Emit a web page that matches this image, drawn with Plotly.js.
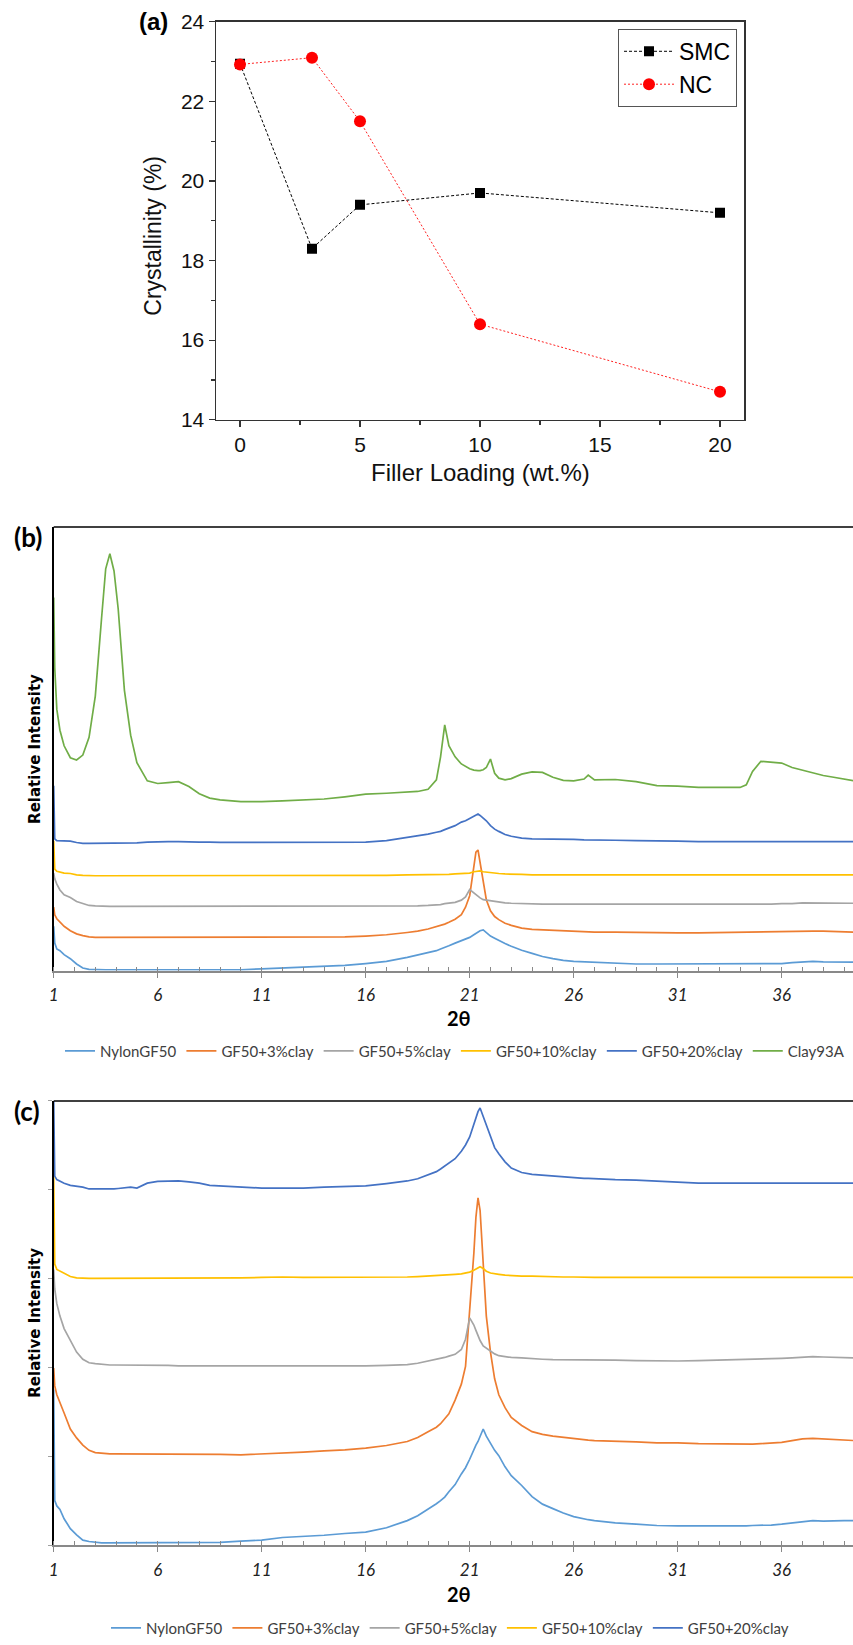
<!DOCTYPE html>
<html><head><meta charset="utf-8">
<script src="https://cdn.plot.ly/plotly-3.0.1.min.js"></script>
<style>html,body{margin:0;padding:0;background:#fff}</style>
</head><body><div id="chart" style="width:853px;height:1645px"></div>
<script>
// ---------- Panel (a) data ----------
const fillerLoading = [0, 3, 5, 10, 20];
const crystSMC = [22.95, 18.3, 19.4, 19.7, 19.2];
const crystNC  = [22.93, 23.1, 21.5, 16.4, 14.7];

// ---------- Panels (b),(c) shared 2-theta grid ----------
const twoTheta = [1.0,1.05,1.15,1.3,1.5,1.8,2.1,2.4,2.7,3.0,
  3.3,3.5,3.7,3.9,4.1,4.4,4.7,5.0,5.5,6.0,
  6.5,7.0,7.5,8.0,8.5,9.0,10,11,12,13,
  14,15,16,17,18,18.5,19,19.4,19.6,19.8,
  20.0,20.3,20.6,20.8,21.0,21.2,21.3,21.4,21.5,21.65,
  21.8,22.0,22.2,22.4,22.7,23.0,23.5,24,24.5,25,
  25.5,26,26.5,26.7,27,28,29,30,31,32,
  33,34,34.3,34.6,35,35.5,36,36.5,37,37.5,
  38,38.5,39,39.5];

// Panel (b) relative intensities
const bNylonGF50 = [10.0,6.2,4.9,4.5,3.6,2.7,1.5,0.6,0.3,0.2,
  0.2,0.2,0.2,0.2,0.2,0.2,0.2,0.2,0.2,0.2,
  0.2,0.2,0.2,0.2,0.2,0.2,0.2,0.4,0.6,0.8,
  0.9,1.2,1.6,2.1,3.0,3.5,4.0,4.5,4.9,5.2,
  5.6,6.2,6.8,7.1,7.5,8.1,8.4,8.7,9.0,9.2,
  8.5,7.8,7.3,6.8,6.1,5.5,4.6,3.9,3.2,2.7,
  2.3,2.1,2.0,1.9,1.8,1.6,1.5,1.5,1.5,1.5,
  1.5,1.5,1.5,1.5,1.5,1.6,1.6,1.8,2.0,2.1,
  2.0,2.0,1.9,1.9];
const bClay3 = [14.3,12.6,11.7,10.9,10.0,9.0,8.3,7.9,7.6,7.5,
  7.5,7.5,7.5,7.5,7.5,7.5,7.5,7.5,7.5,7.5,
  7.5,7.5,7.5,7.5,7.5,7.5,7.5,7.5,7.5,7.5,
  7.5,7.6,7.8,8.1,8.6,8.9,9.4,9.9,10.2,10.5,
  10.9,11.6,12.6,14.3,16.9,23.7,26.7,27.2,24.6,19.9,
  16.0,13.5,12.2,11.5,10.7,10.2,9.6,9.3,9.2,9.1,
  9.0,8.9,8.8,8.8,8.7,8.7,8.6,8.5,8.5,8.5,
  8.6,8.7,8.7,8.7,8.8,8.8,8.8,8.9,8.9,8.9,
  8.9,8.8,8.7,8.7];
const bClay5 = [22.0,20.7,19.5,18.2,17.1,16.5,15.6,15.1,14.7,14.6,
  14.5,14.5,14.5,14.5,14.5,14.5,14.5,14.5,14.5,14.5,
  14.5,14.5,14.5,14.5,14.5,14.5,14.5,14.5,14.5,14.5,
  14.5,14.5,14.5,14.5,14.6,14.6,14.7,14.8,14.9,15.1,
  15.2,15.4,15.9,16.6,18.3,17.5,17.1,16.8,16.4,16.0,
  15.9,15.6,15.5,15.4,15.3,15.2,15.1,15.0,15.0,15.0,
  15.0,15.0,15.0,15.0,15.0,15.0,14.9,14.9,14.9,14.9,
  15.0,15.0,15.0,15.0,15.0,15.0,15.1,15.1,15.3,15.3,
  15.3,15.3,15.2,15.2];
const bClay10 = [29.3,22.9,22.4,22.2,22.0,21.9,21.6,21.5,21.4,21.4,
  21.4,21.4,21.4,21.4,21.4,21.4,21.4,21.4,21.4,21.4,
  21.4,21.4,21.4,21.4,21.4,21.4,21.4,21.4,21.4,21.4,
  21.4,21.4,21.4,21.5,21.6,21.6,21.6,21.6,21.6,21.7,
  21.7,21.8,21.9,21.9,22.0,22.3,22.4,22.5,22.5,22.3,
  22.2,22.0,21.9,21.9,21.8,21.7,21.7,21.6,21.6,21.6,
  21.6,21.6,21.6,21.6,21.6,21.6,21.6,21.6,21.6,21.6,
  21.6,21.6,21.6,21.6,21.6,21.6,21.6,21.6,21.6,21.6,
  21.6,21.6,21.6,21.6];
const bClay20 = [41.7,29.7,29.3,29.3,29.3,29.2,28.9,28.7,28.7,28.7,
  28.7,28.7,28.7,28.7,28.7,28.7,28.7,28.8,29.0,29.1,
  29.1,29.1,29.0,29.0,29.0,28.9,28.9,28.9,28.9,28.9,
  28.9,29.0,29.0,29.3,30.0,30.3,30.8,31.2,31.4,31.8,
  32.1,32.7,33.5,33.8,34.3,34.9,35.1,35.3,35.0,34.4,
  33.8,32.7,31.9,31.4,30.7,30.3,29.9,29.7,29.7,29.6,
  29.6,29.6,29.5,29.5,29.5,29.4,29.3,29.3,29.2,29.1,
  29.1,29.0,29.0,29.0,29.0,29.0,29.0,29.0,29.0,29.1,
  29.1,29.1,29.1,29.1];
const bClay93A = [84.1,68.3,58.9,54.2,50.7,48.0,47.5,48.6,52.6,61.9,
  79.4,90.6,94.0,90.1,81.6,63.2,53.1,46.9,42.8,42.2,
  42.4,42.6,41.5,39.9,38.9,38.5,38.1,38.1,38.3,38.5,
  38.7,39.2,39.8,40.0,40.3,40.4,40.9,43.0,48.2,55.4,
  50.7,48.2,46.6,46.0,45.5,45.2,45.1,45.1,45.1,45.3,
  45.8,47.7,44.5,43.4,43.0,43.3,44.3,44.8,44.7,43.6,
  42.9,42.8,43.2,44.1,43.0,43.1,42.6,41.7,41.6,41.3,
  41.3,41.3,41.9,44.9,47.2,47.0,46.8,45.8,45.2,44.6,
  44.0,43.6,43.2,42.8];

// Panel (c) relative intensities
const cNylonGF50 = [35.1,10.1,8.9,8.1,6.0,3.8,2.4,1.2,0.9,0.7,
  0.6,0.6,0.6,0.6,0.6,0.6,0.6,0.6,0.6,0.6,
  0.6,0.6,0.6,0.6,0.7,0.7,1.0,1.2,1.8,2.0,
  2.3,2.7,3.0,4.0,5.6,6.7,8.1,9.4,10.1,10.9,
  12.1,13.7,16.1,17.5,19.4,21.8,22.6,23.4,24.6,26.2,
  24.6,23.0,21.4,20.2,17.7,15.7,13.5,11.0,9.3,8.3,
  7.3,6.5,5.9,5.8,5.6,5.1,4.8,4.5,4.4,4.4,
  4.3,4.4,4.4,4.5,4.5,4.6,4.8,5.1,5.4,5.6,
  5.5,5.6,5.6,5.6];
const cClay3 = [39.9,35.9,33.9,32.3,29.8,26.2,24.2,22.6,21.4,20.9,
  20.7,20.6,20.6,20.6,20.6,20.6,20.6,20.6,20.6,20.6,
  20.6,20.6,20.6,20.6,20.5,20.5,20.4,20.6,20.7,21.0,
  21.3,21.5,21.9,22.5,23.4,24.3,25.6,26.6,27.4,28.5,
  29.6,32.7,36.3,40.3,52.0,65.7,73.8,78.2,75.4,62.5,
  51.6,43.5,37.5,33.9,31.0,28.8,27.0,25.6,25.0,24.6,
  24.3,24.0,23.8,23.7,23.6,23.5,23.3,23.1,23.1,22.9,
  22.8,22.8,22.8,22.8,22.9,23.0,23.2,23.6,24.0,24.1,
  24.0,23.8,23.7,23.6];
const cClay5 = [62.1,57.7,54.4,51.6,48.8,46.0,43.5,41.9,41.1,40.9,
  40.7,40.7,40.6,40.6,40.6,40.6,40.6,40.6,40.5,40.5,
  40.5,40.4,40.4,40.4,40.3,40.3,40.3,40.3,40.3,40.3,
  40.3,40.3,40.4,40.5,40.7,41.0,41.5,41.8,42.0,42.3,
  42.6,43.0,44.1,46.4,51.2,49.6,48.4,47.0,46.1,44.9,
  44.4,43.6,43.1,42.7,42.5,42.3,42.2,42.0,41.9,41.8,
  41.8,41.8,41.8,41.8,41.7,41.7,41.6,41.5,41.5,41.6,
  41.7,41.8,41.8,41.9,41.9,42.0,42.1,42.2,42.4,42.5,
  42.4,42.3,42.3,42.2];
const cClay10 = [83.1,63.3,62.1,61.7,61.3,60.5,60.2,60.1,60.1,60.1,
  60.1,60.1,60.1,60.1,60.1,60.1,60.1,60.1,60.1,60.1,
  60.1,60.1,60.1,60.1,60.1,60.2,60.2,60.3,60.4,60.3,
  60.3,60.3,60.3,60.3,60.4,60.5,60.6,60.7,60.8,60.8,
  60.9,61.0,61.1,61.3,61.5,61.9,62.2,62.5,62.7,62.3,
  61.7,61.3,61.1,61.0,60.8,60.7,60.6,60.6,60.5,60.5,
  60.4,60.4,60.3,60.3,60.3,60.3,60.3,60.3,60.3,60.3,
  60.3,60.3,60.3,60.3,60.3,60.3,60.3,60.3,60.3,60.3,
  60.3,60.3,60.3,60.3];
const cClay20 = [100,83.1,82.3,81.9,81.5,81.0,80.8,80.6,80.2,80.2,
  80.1,80.1,80.2,80.2,80.3,80.5,80.6,80.4,81.5,81.9,
  82.0,82.0,81.8,81.5,81.0,80.9,80.6,80.4,80.4,80.4,
  80.6,80.7,80.9,81.4,82.0,82.5,83.3,84.1,84.7,85.3,
  86.0,87.0,88.7,90.1,91.9,94.8,96.4,97.6,98.4,96.5,
  94.4,91.7,89.5,88.1,86.3,84.9,83.9,83.5,83.3,83.1,
  82.9,82.7,82.6,82.6,82.5,82.3,82.2,82.0,81.8,81.5,
  81.5,81.5,81.5,81.5,81.5,81.5,81.5,81.5,81.6,81.6,
  81.6,81.6,81.6,81.5];

const seriesNames = ['NylonGF50','GF50+3%clay','GF50+5%clay','GF50+10%clay','GF50+20%clay','Clay93A'];
const seriesColors = ['#5B9BD5','#ED7D31','#A5A5A5','#FFC000','#4472C4','#70AD47'];
const xTickLabels = ['1','6','11','16','21','26','31','36'];

const bSeries = [bNylonGF50, bClay3, bClay5, bClay10, bClay20, bClay93A];
const cSeries = [cNylonGF50, cClay3, cClay5, cClay10, cClay20];

const W = 853, H = 1645;
const px = v => v / W;
const py = v => 1 - v / H;

const traces = [];
traces.push({x: fillerLoading, y: crystSMC, name: 'SMC', type: 'scatter', mode: 'lines+markers',
  xaxis: 'x', yaxis: 'y', legend: 'legend',
  line: {color: '#000', width: 1, dash: '3px,2px'},
  marker: {symbol: 'square', size: 10, color: '#000'}});
traces.push({x: fillerLoading, y: crystNC, name: 'NC', type: 'scatter', mode: 'lines+markers',
  xaxis: 'x', yaxis: 'y', legend: 'legend',
  line: {color: '#FF2020', width: 1, dash: '2px,2px'},
  marker: {symbol: 'circle', size: 12, color: '#FF0000'}});

bSeries.forEach((s, i) => traces.push({x: twoTheta, y: s, name: seriesNames[i], type: 'scatter', mode: 'lines',
  xaxis: 'x2', yaxis: 'y2', legend: 'legend2', line: {color: seriesColors[i], width: 1.7}}));
cSeries.forEach((s, i) => traces.push({x: twoTheta, y: s, name: seriesNames[i], type: 'scatter', mode: 'lines',
  xaxis: 'x3', yaxis: 'y3', legend: 'legend3', line: {color: seriesColors[i], width: 1.7}}));

const arial = 'Liberation Sans, Arial, sans-serif';
const cal = 'Lato, Carlito, Calibri, sans-serif';
const tickVals = xTickLabels.map(Number);

function xrdX() {
  return {
    domain: [px(53.7), 1], range: [1, 39.43], showgrid: false, zeroline: false,
    showline: true, linecolor: '#898989', linewidth: 2,
    tickmode: 'array', tickvals: tickVals, ticktext: xTickLabels,
    ticks: 'outside', ticklen: 5, tickcolor: '#898989', tickwidth: 1,
    minor: {tickmode: 'linear', tick0: 1, dtick: 1, ticks: 'inside', ticklen: 4, tickcolor: '#898989', tickwidth: 1},
    tickfont: {family: cal, size: 17, style: 'italic', color: '#222'},
    ticklabelstandoff: 3
  };
}

const layout = {
  width: W, height: H, margin: {l: 0, r: 0, t: 0, b: 0},
  paper_bgcolor: '#fff', plot_bgcolor: '#fff', showlegend: true,
  xaxis: {domain: [px(216), px(744)], anchor: 'y', range: [-1, 21], showgrid: false, zeroline: false,
    showline: true, mirror: true, linecolor: '#333', linewidth: 1.5,
    tick0: 0, dtick: 5, ticks: 'outside', ticklen: 6, tickcolor: '#333', tickwidth: 1.2,
    minor: {tick0: 0, dtick: 2.5, ticks: 'outside', ticklen: 4, tickcolor: '#333', tickwidth: 1.2},
    tickfont: {family: arial, size: 21, color: '#111'}},
  yaxis: {domain: [py(422), py(22)], anchor: 'x', range: [14, 24], showgrid: false, zeroline: false,
    showline: true, mirror: true, linecolor: '#333', linewidth: 1.5,
    tick0: 14, dtick: 2, ticks: 'outside', ticklen: 6, tickcolor: '#333', tickwidth: 1.2,
    minor: {tick0: 14, dtick: 1, ticks: 'outside', ticklen: 4, tickcolor: '#333', tickwidth: 1.2},
    tickfont: {family: arial, size: 21, color: '#111'}},
  xaxis2: Object.assign(xrdX(), {anchor: 'y2'}),
  yaxis2: {domain: [py(976), py(530)], anchor: 'x2', range: [0, 100], showgrid: false, zeroline: false,
    showline: true, linecolor: '#000', linewidth: 1.3, showticklabels: false, ticks: ''},
  xaxis3: Object.assign(xrdX(), {anchor: 'y3'}),
  yaxis3: {domain: [py(1554), py(1107)], anchor: 'x3', range: [0, 100], showgrid: false, zeroline: false,
    showline: true, linecolor: '#000', linewidth: 1.3, showticklabels: false,
    tick0: 0, dtick: 20, ticks: 'outside', ticklen: 4, tickcolor: '#A0A0A0'},
  legend: {x: px(737), xanchor: 'right', y: py(29), yanchor: 'top', bgcolor: '#fff',
    bordercolor: '#555', borderwidth: 1, itemwidth: 50, font: {family: arial, size: 23, color: '#000'}},
  legend2: {orientation: 'h', x: px(60), xanchor: 'left', y: py(1057), yanchor: 'middle',
    itemwidth: 30, font: {family: cal, size: 15, color: '#404040'}, bgcolor: 'rgba(0,0,0,0)'},
  legend3: {orientation: 'h', x: px(450), xanchor: 'center', y: py(1637), yanchor: 'middle',
    itemwidth: 30, font: {family: cal, size: 15, color: '#404040'}, bgcolor: 'rgba(0,0,0,0)'},
  shapes: [
    {type: 'line', xref: 'x2 domain', yref: 'y2 domain', x0: 0, x1: 1, y0: 1, y1: 1, line: {color: '#000', width: 1.5}},
    {type: 'line', xref: 'x3 domain', yref: 'y3 domain', x0: 0, x1: 1, y0: 1, y1: 1, line: {color: '#000', width: 1.5}}
  ],
  annotations: [
    {text: '<b>(a)</b>', xref: 'paper', yref: 'paper', x: px(153), y: py(22), showarrow: false,
      xanchor: 'center', yanchor: 'middle', font: {family: arial, size: 24, color: '#000'}},
    {text: 'Crystallinity (%)', xref: 'paper', yref: 'paper', x: px(153), y: py(237), textangle: -90, showarrow: false,
      xanchor: 'center', yanchor: 'middle', font: {family: arial, size: 23, color: '#111'}},
    {text: 'Filler Loading (wt.%)', xref: 'paper', yref: 'paper', x: px(480), y: py(475), showarrow: false,
      xanchor: 'center', yanchor: 'middle', font: {family: arial, size: 24, color: '#111'}},
    {text: '<b>(b)</b>', xref: 'paper', yref: 'paper', x: px(28), y: py(540), showarrow: false,
      xanchor: 'center', yanchor: 'middle', font: {family: cal, size: 26, color: '#000'}},
    {text: '<b>Relative Intensity</b>', xref: 'paper', yref: 'paper', x: px(35), y: py(753), textangle: -90, showarrow: false,
      xanchor: 'center', yanchor: 'middle', font: {family: 'DejaVu Sans, Verdana, sans-serif', size: 15, color: '#000'}},
    {text: '<b>2θ</b>', xref: 'paper', yref: 'paper', x: px(459), y: py(1024), showarrow: false,
      xanchor: 'center', yanchor: 'middle', font: {family: cal, size: 20, color: '#000'}},
    {text: '<b>(c)</b>', xref: 'paper', yref: 'paper', x: px(27), y: py(1117), showarrow: false,
      xanchor: 'center', yanchor: 'middle', font: {family: cal, size: 26, color: '#000'}},
    {text: '<b>Relative Intensity</b>', xref: 'paper', yref: 'paper', x: px(35), y: py(1330), textangle: -90, showarrow: false,
      xanchor: 'center', yanchor: 'middle', font: {family: 'DejaVu Sans, Verdana, sans-serif', size: 15, color: '#000'}},
    {text: '<b>2θ</b>', xref: 'paper', yref: 'paper', x: px(459), y: py(1603), showarrow: false,
      xanchor: 'center', yanchor: 'middle', font: {family: cal, size: 20, color: '#000'}}
  ]
};

Plotly.newPlot('chart', traces, layout, {staticPlot: true, displayModeBar: false});
</script></body></html>
